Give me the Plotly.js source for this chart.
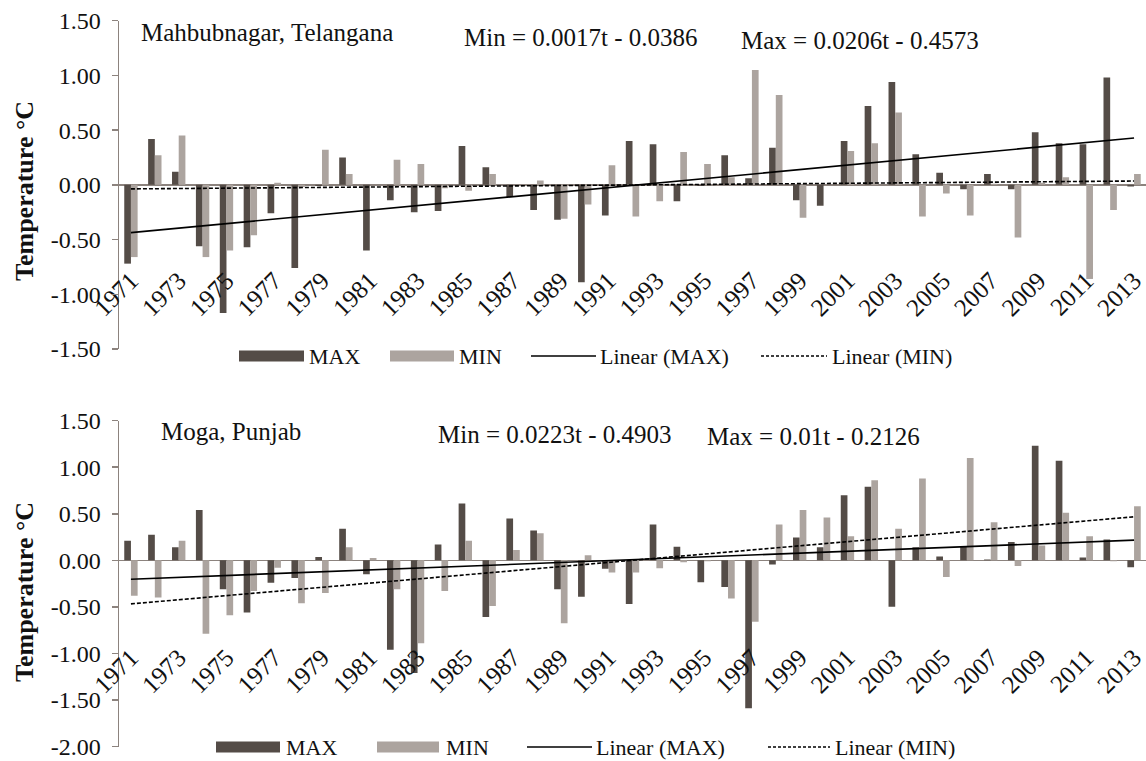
<!DOCTYPE html>
<html>
<head>
<meta charset="utf-8">
<script src="https://cdn.plot.ly/plotly-3.0.1.min.js"></script>
<style>html,body{margin:0;padding:0;background:#fff;}#chart{width:1146px;height:761px;}</style>
</head>
<body>
<div id="chart"></div>
<script>
// ---- data ----
const years = [1971,1972,1973,1974,1975,1976,1977,1978,1979,1980,1981,1982,1983,1984,1985,1986,1987,1988,1989,1990,1991,1992,1993,1994,1995,1996,1997,1998,1999,2000,2001,2002,2003,2004,2005,2006,2007,2008,2009,2010,2011,2012,2013];
const tickYears = [1971,1973,1975,1977,1979,1981,1983,1985,1987,1989,1991,1993,1995,1997,1999,2001,2003,2005,2007,2009,2011,2013];
const topYTicks = [-1.5,-1.0,-0.5,0,0.5,1.0,1.5];
const botYTicks = [-2.0,-1.5,-1.0,-0.5,0,0.5,1.0,1.5];

// Mahbubnagar, Telangana
const topMax = [-0.72,0.42,0.12,-0.56,-1.17,-0.57,-0.26,-0.76,-0.01,0.25,-0.60,-0.14,-0.25,-0.24,0.355,0.16,-0.11,-0.23,-0.32,-0.89,-0.28,0.40,0.37,-0.15,-0.01,0.27,0.06,0.34,-0.14,-0.19,0.40,0.72,0.94,0.28,0.11,-0.04,0.10,-0.04,0.48,0.38,0.37,0.98,-0.015];
const topMin = [-0.66,0.27,0.45,-0.66,-0.60,-0.46,0.02,-0.02,0.32,0.10,0.00,0.23,0.19,-0.03,-0.055,0.10,0.00,0.04,-0.31,-0.18,0.18,-0.29,-0.15,0.30,0.19,0.07,1.05,0.82,-0.30,0.00,0.31,0.38,0.66,-0.29,-0.08,-0.28,0.01,-0.48,0.02,0.07,-0.86,-0.23,0.10];
const topTrendYears = [1971, 2013];
const topTrendMax = [-0.437, 0.428];
const topTrendMin = [-0.037, 0.035];

// Moga, Punjab
const botMax = [0.21,0.275,0.14,0.54,-0.31,-0.56,-0.24,-0.19,0.035,0.34,-0.15,-0.96,-1.21,0.17,0.61,-0.61,0.45,0.32,-0.31,-0.39,-0.09,-0.47,0.385,0.146,-0.236,-0.286,-1.59,-0.046,0.246,0.14,0.70,0.79,-0.50,0.14,0.04,0.15,0.01,0.196,1.23,1.07,0.03,0.225,-0.075];
const botMin = [-0.38,-0.40,0.21,-0.79,-0.59,-0.33,-0.08,-0.46,-0.35,0.14,0.025,-0.31,-0.89,-0.33,0.21,-0.49,0.11,0.29,-0.675,0.054,-0.13,-0.13,-0.086,-0.02,-0.01,-0.41,-0.66,0.385,0.54,0.46,0.26,0.86,0.34,0.88,-0.18,1.10,0.41,-0.06,0.16,0.51,0.26,-0.01,0.58];
const botTrendYears = [1971, 2013];
const botTrendMax = [-0.203, 0.217];
const botTrendMin = [-0.468, 0.468];

const panelTitles = ["Mahbubnagar, Telangana", "Moga, Punjab"];
const minEquations = ["Min = 0.0017t - 0.0386", "Min = 0.0223t - 0.4903"];
const maxEquations = ["Max = 0.0206t - 0.4573", "Max = 0.01t - 0.2126"];
const legendLabels = ["MAX", "MIN", "Linear (MAX)", "Linear (MIN)"];
const yTitle = "Temperature °C";

// ---- styling ----
const W = 1146, H = 761, L = 119, PW = W - L;
const px = x => (x - L) / PW;
const py = y => 1 - y / H;
const FONT = "Liberation Serif";
const C_MAX = "#544c47", C_MIN = "#aca49f", C_AX = "#8c837e", C_TXT = "#111111";

const cat = years.map(String);
const ticks = tickYears.map(String);

function barTrace(vals, color, xa, ya) {
  return {type: "bar", x: cat, y: vals, xaxis: xa, yaxis: ya,
    marker: {color: color, line: {width: 0}}, showlegend: false, hoverinfo: "skip"};
}
function lineTrace(xs, vals, dash, xa, ya) {
  return {type: "scatter", mode: "lines", x: xs.map(String), y: vals, xaxis: xa, yaxis: ya,
    line: {color: "#000", width: 1.6, dash: dash}, showlegend: false, hoverinfo: "skip"};
}

const traces = [
  barTrace(topMax, C_MAX, "x", "y"),
  barTrace(topMin, C_MIN, "x", "y"),
  lineTrace(topTrendYears, topTrendMax, "solid", "x", "y"),
  lineTrace(topTrendYears, topTrendMin, "4px,2px", "x", "y"),
  barTrace(botMax, C_MAX, "x2", "y2"),
  barTrace(botMin, C_MIN, "x2", "y2"),
  lineTrace(botTrendYears, botTrendMax, "solid", "x2", "y2"),
  lineTrace(botTrendYears, botTrendMin, "4px,2px", "x2", "y2")
];

function xAxis(pos) {
  return {type: "category", categoryorder: "array", categoryarray: cat,
    domain: [0, 1], anchor: "free", position: pos,
    showline: false, showgrid: false, zeroline: false, ticks: "",
    tickmode: "array", tickvals: ticks, ticktext: ticks, tickangle: -45,
    ticklabeloverflow: "allow",
    tickfont: {family: FONT, size: 25, color: C_TXT}, range: [-0.5, years.length - 0.5]};
}
function yAxis(domain, range, xa, tv) {
  return {domain: domain, range: range, anchor: xa,
    tickmode: "array", tickvals: tv, ticktext: tv.map(v => v.toFixed(2)),
    showline: true, linecolor: C_AX, linewidth: 1.5,
    ticks: "outside", ticklen: 6, tickcolor: C_AX, tickwidth: 1.5, ticklabelstandoff: 6,
    ticklabeloverflow: "allow",
    showgrid: false, zeroline: true, zerolinecolor: C_AX, zerolinewidth: 1.5,
    tickfont: {family: FONT, size: 24, color: C_TXT}};
}

const annotations = [];
const shapes = [];
function txt(x, y, text, size, opts) {
  annotations.push(Object.assign({xref: "paper", yref: "paper", x: px(x), y: py(y), text: text,
    showarrow: false, xanchor: "left", yanchor: "middle", borderpad: 0,
    font: {family: FONT, size: size, color: C_TXT}}, opts || {}));
}
// panel texts
txt(140, 33, panelTitles[0], 25);
txt(463, 38, minEquations[0], 25);
txt(740, 41, maxEquations[0], 25);
txt(160, 431, panelTitles[1], 25);
txt(437, 434, minEquations[1], 25);
txt(706, 436, maxEquations[1], 25);
// y titles
txt(24, 191, yTitle, 26, {xanchor: "center", textangle: -90, font: {family: FONT, size: 26, color: C_TXT, weight: "bold"}});
txt(24, 592, yTitle, 26, {xanchor: "center", textangle: -90, font: {family: FONT, size: 26, color: C_TXT, weight: "bold"}});

// custom legends
function legend(yc, pos) {
  // pos: [maxSw0, maxSw1, maxTxt, minSw0, minSw1, minTxt, ln0, ln1, lnTxt, d0, d1, dTxt]
  shapes.push({type: "rect", xref: "paper", yref: "paper", x0: px(pos[0]), x1: px(pos[1]), y0: py(yc + 5.5), y1: py(yc - 5.5), fillcolor: C_MAX, line: {width: 0}});
  txt(pos[2], yc, legendLabels[0], 22);
  shapes.push({type: "rect", xref: "paper", yref: "paper", x0: px(pos[3]), x1: px(pos[4]), y0: py(yc + 5.5), y1: py(yc - 5.5), fillcolor: C_MIN, line: {width: 0}});
  txt(pos[5], yc, legendLabels[1], 22);
  shapes.push({type: "line", xref: "paper", yref: "paper", x0: px(pos[6]), x1: px(pos[7]), y0: py(yc), y1: py(yc), line: {color: "#000", width: 1.6}});
  txt(pos[8], yc, legendLabels[2], 22);
  shapes.push({type: "line", xref: "paper", yref: "paper", x0: px(pos[9]), x1: px(pos[10]), y0: py(yc), y1: py(yc), line: {color: "#000", width: 1.4, dash: "3px,2px"}});
  txt(pos[11], yc, legendLabels[3], 22);
}
legend(356, [239, 304, 308, 390, 454, 458, 531, 596, 599, 761, 827, 831]);
legend(747, [216, 280, 285, 377, 439, 445, 527, 592, 595, 768, 830, 834]);

const layout = {
  width: W, height: H,
  font: {family: FONT, size: 22, color: C_TXT},
  margin: {l: L, r: 0, t: 0, b: 0, pad: 0},
  paper_bgcolor: "#fff", plot_bgcolor: "#fff",
  barmode: "group", bargap: 0.44, bargroupgap: 0,
  showlegend: false,
  xaxis: xAxis(py(260)),
  yaxis: yAxis([py(349), py(20.7)], [-1.5, 1.5], "x", topYTicks),
  xaxis2: xAxis(py(637)),
  yaxis2: yAxis([py(746.5), py(420.7)], [-2.0, 1.5], "x2", botYTicks),
  annotations: annotations,
  shapes: shapes
};

Plotly.newPlot("chart", traces, layout, {staticPlot: true, displayModeBar: false});
</script>
</body>
</html>
